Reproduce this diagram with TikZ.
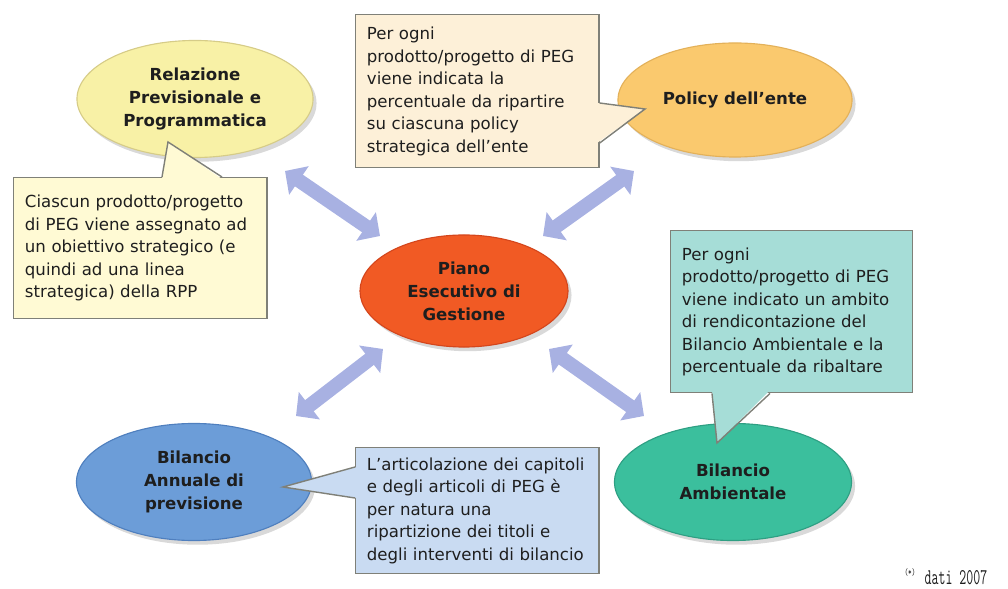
\documentclass[tikz,border=0pt]{standalone}
\usepackage{fontspec}
\setmainfont{DejaVu Sans}
\usetikzlibrary{shapes.geometric,arrows.meta,shadows}

\definecolor{rppfill}{HTML}{F8F1A6}
\definecolor{rppline}{HTML}{D6CC88}
\definecolor{rppbox}{HTML}{FFFAD4}
\definecolor{polfill}{HTML}{FAC96E}
\definecolor{polline}{HTML}{E3B15A}
\definecolor{polbox}{HTML}{FDF0D8}
\definecolor{pegfill}{HTML}{F15A24}
\definecolor{pegline}{HTML}{D4461C}
\definecolor{bapfill}{HTML}{6C9DD8}
\definecolor{bapline}{HTML}{4F7FBE}
\definecolor{bapbox}{HTML}{C9DBF2}
\definecolor{ambfill}{HTML}{3BBF9D}
\definecolor{ambline}{HTML}{2E9F83}
\definecolor{ambbox}{HTML}{A6DDD7}
\definecolor{freccia}{HTML}{A8B1E2}
\definecolor{bordo}{HTML}{7F8078}
\definecolor{testo}{HTML}{1E1E1E}

\begin{document}
\begin{tikzpicture}[x=0.025cm, y=-0.025cm,
  bubble/.style={ellipse, line width=0.8pt, inner sep=0pt, align=center, text=testo,
    font=\bfseries\fontsize{11.8}{16.3}\selectfont,
    drop shadow={shadow xshift=2.5pt, shadow yshift=-3pt, opacity=0.3}},
  note/.style={rectangle, draw=bordo, line width=1pt, anchor=north west, align=left,
    inner xsep=8pt, inner ysep=0pt, text=testo, font=\fontsize{11.8}{16}\selectfont},
  bigarrow/.style={draw=freccia, line width=10pt,
    {Triangle[width=24pt,length=12pt]}-{Triangle[width=24pt,length=12pt]}}]
\useasboundingbox (0,0) rectangle (1008,589);

% ellissi
\node[bubble, fill=rppfill, draw=rppline, minimum width=5.9cm, minimum height=2.925cm] (rpp) at (195,99) {Relazione\\Previsionale e\\Programmatica};
\node[bubble, fill=polfill, draw=polline, minimum width=5.85cm, minimum height=2.85cm] (pol) at (735,100) {Policy dell’ente};
\node[bubble, fill=pegfill, draw=pegline, minimum width=5.2cm, minimum height=2.8cm] (peg) at (464,291) {Piano\\Esecutivo di\\Gestione};
\node[bubble, fill=bapfill, draw=bapline, minimum width=5.875cm, minimum height=2.925cm] (bap) at (194,482) {Bilancio\\Annuale di\\previsione};
\node[bubble, fill=ambfill, draw=ambline, minimum width=5.925cm, minimum height=2.925cm] (amb) at (733,482) {Bilancio\\Ambientale};

% frecce doppie
\coordinate (rppA) at (285,171); \coordinate (pegA) at (380,236);
\coordinate (polA) at (634,171); \coordinate (pegB) at (543,236);
\coordinate (bapA) at (296,416); \coordinate (pegC) at (383,349);
\coordinate (ambA) at (644,416); \coordinate (pegD) at (549,349);
\draw[bigarrow] (rppA) -- (pegA);
\draw[bigarrow] (pegB) -- (polA);
\draw[bigarrow] (bapA) -- (pegC);
\draw[bigarrow] (pegD) -- (ambA);

% note
\node[note, fill=rppbox, minimum height=3.525cm, text width=164pt] (rppnote) at (13,177)
  {Ciascun prodotto/progetto\\di PEG viene assegnato ad\\un obiettivo strategico (e\\quindi ad una linea\\strategica) della RPP};
\node[note, fill=polbox, minimum height=3.825cm, text width=157pt] (polnote) at (355,14)
  {Per ogni\\prodotto/progetto di PEG\\viene indicata la\\percentuale da ripartire\\su ciascuna policy\\strategica dell’ente};
\node[note, fill=bapbox, minimum height=3.15cm, text width=157pt] (bapnote) at (355,447)
  {L’articolazione dei capitoli\\e degli articoli di PEG è\\per natura una\\ripartizione dei titoli e\\degli interventi di bilancio};
\node[note, fill=ambbox, minimum height=4.05cm, text width=156pt] (ambnote) at (670,230)
  {Per ogni\\prodotto/progetto di PEG\\viene indicato un ambito\\di rendicontazione del\\Bilancio Ambientale e la\\percentuale da ribaltare};

% punte dei fumetti
\coordinate (rpptip) at (168,142);
\fill[rppbox] (162,179) -- (rpptip) -- (222,179) -- cycle;
\draw[bordo, line width=1pt] (162,0 |- rppnote.north) -- (rpptip) -- (222,0 |- rppnote.north);
\coordinate (poltip) at (645,109);
\fill[polbox] (597,103) -- (poltip) -- (597,143) -- cycle;
\draw[bordo, line width=1pt] (polnote.east |- 0,103) -- (poltip) -- (polnote.east |- 0,143);
\coordinate (baptip) at (283,487);
\fill[bapbox] (357,467) -- (baptip) -- (357,498) -- cycle;
\draw[bordo, line width=1pt] (bapnote.west |- 0,467) -- (baptip) -- (bapnote.west |- 0,498);
\coordinate (ambtip) at (717,443);
\fill[ambbox] (712,390) -- (ambtip) -- (770,390) -- cycle;
\draw[bordo, line width=1pt] (712,0 |- ambnote.south) -- (ambtip) -- (770,0 |- ambnote.south);

% nota a pie'
\node[font=\ttfamily\fontsize{16}{16}\selectfont, anchor=base, text=testo] (dati) at (956,585) {\scalebox{0.6}[1]{dati 2007}};
\node[font=\ttfamily\fontsize{7}{7}\selectfont, text=testo] (asterisco) at (910,572) {\scalebox{0.7}[1]{(*)}};
\end{tikzpicture}
\end{document}
